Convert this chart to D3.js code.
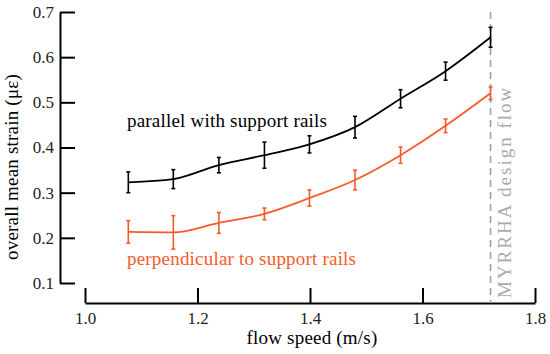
<!DOCTYPE html>
<html>
<head>
<meta charset="utf-8">
<script src="https://cdn.jsdelivr.net/npm/d3@7"></script>
<style>
  body { margin: 0; background: #fff; }
  svg { display: block; font-family: "Liberation Serif", "DejaVu Serif", serif; }
</style>
</head>
<body>
<svg width="550" height="354"></svg>
<script>
// flow speeds (m/s)
let speeds = [1.077, 1.157, 1.238, 1.319, 1.399, 1.48, 1.561, 1.641, 1.721];
// parallel with support rails
let parallelMean = [0.323, 0.330, 0.361, 0.383, 0.407, 0.445, 0.508, 0.569, 0.644];
let parallelErr = [0.023, 0.021, 0.017, 0.029, 0.019, 0.024, 0.020, 0.020, 0.022];
// perpendicular to support rails
let perpMean = [0.213, 0.212, 0.233, 0.253, 0.288, 0.328, 0.383, 0.448, 0.520];
let perpErr = [0.025, 0.037, 0.023, 0.013, 0.018, 0.022, 0.018, 0.015, 0.014];
let xTicks = [1.0, 1.2, 1.4, 1.6, 1.8];
let yTicks = [0.1, 0.2, 0.3, 0.4, 0.5, 0.6, 0.7];
let designFlow = 1.721;

let orange = "#fa5a2a";

let svg = d3.select("svg");

let x = d3.scaleLinear().domain([1.0, 1.8]).range([85, 535]);
let y = d3.scaleLinear().domain([0.1, 0.7]).range([283, 12]);

// axes (detached, ticks pointing inward)
svg.append("g")
    .attr("transform", "translate(60,0)")
    .call(d3.axisLeft(y).tickValues(yTicks).tickFormat(d3.format(".1f"))
        .tickSizeInner(-15).tickSizeOuter(0).tickPadding(6));

svg.append("g")
    .attr("transform", "translate(0,303)")
    .call(d3.axisBottom(x).tickValues(xTicks).tickFormat(d3.format(".1f"))
        .tickSizeInner(-15).tickSizeOuter(0).tickPadding(9));

svg.selectAll(".domain, .tick line")
    .attr("stroke", "#000")
    .attr("stroke-width", 2);
svg.selectAll(".tick text")
    .attr("font-family", "Liberation Serif, serif")
    .attr("font-size", 17)
    .attr("fill", "#222");

// design flow marker
svg.append("line")
    .attr("x1", x(designFlow)).attr("x2", x(designFlow))
    .attr("y1", y(0.7)).attr("y2", 303)
    .attr("stroke", "#a0a0a0")
    .attr("stroke-width", 1.6)
    .attr("stroke-dasharray", "7,5");

svg.append("text")
    .attr("transform", "translate(" + (x(designFlow) + 20) + ",298) rotate(-90)")
    .attr("font-size", 19)
    .attr("letter-spacing", 2)
    .attr("fill", "#aaaaaa")
    .text("MYRRHA design flow");

function drawSeries(means, errs, color) {
    let pts = speeds.map(function (s, i) {
        return { x: s, y: means[i], e: errs[i] };
    });
    let line = d3.line()
        .x(function (d) { return x(d.x) })
        .y(function (d) { return y(d.y) })
        .curve(d3.curveMonotoneX);
    svg.append("path")
        .datum(pts)
        .attr("d", line)
        .attr("fill", "none")
        .attr("stroke", color)
        .attr("stroke-width", 1.8);

    let bars = svg.append("g")
        .attr("stroke", color)
        .attr("stroke-width", 1.6);
    bars.selectAll(".err")
        .data(pts)
        .enter()
        .append("line")
        .attr("x1", function (d) { return x(d.x) })
        .attr("x2", function (d) { return x(d.x) })
        .attr("y1", function (d) { return y(d.y - d.e) })
        .attr("y2", function (d) { return y(d.y + d.e) });
    // small caps
    [-1, 1].forEach(function (k) {
        bars.selectAll(".cap" + k)
            .data(pts)
            .enter()
            .append("line")
            .attr("x1", function (d) { return x(d.x) - 2 })
            .attr("x2", function (d) { return x(d.x) + 2 })
            .attr("y1", function (d) { return y(d.y + k * d.e) })
            .attr("y2", function (d) { return y(d.y + k * d.e) });
    });
}

drawSeries(parallelMean, parallelErr, "#000");
drawSeries(perpMean, perpErr, orange);

// labels
svg.append("text")
    .attr("x", 127).attr("y", 127)
    .attr("font-size", 19)
    .attr("letter-spacing", 0.2)
    .attr("fill", "#000")
    .text("parallel with support rails");

svg.append("text")
    .attr("x", 127).attr("y", 265)
    .attr("font-size", 19)
    .attr("letter-spacing", 0.2)
    .attr("fill", orange)
    .text("perpendicular to support rails");

svg.append("text")
    .attr("x", 312).attr("y", 344)
    .attr("text-anchor", "middle")
    .attr("font-size", 19)
    .attr("letter-spacing", 0.2)
    .attr("fill", "#000")
    .text("flow speed (m/s)");

svg.append("text")
    .attr("transform", "translate(18,167) rotate(-90)")
    .attr("text-anchor", "middle")
    .attr("font-size", 19)
    .attr("letter-spacing", 0.2)
    .attr("fill", "#000")
    .text("overall mean strain (με)");
</script>
</body>
</html>
